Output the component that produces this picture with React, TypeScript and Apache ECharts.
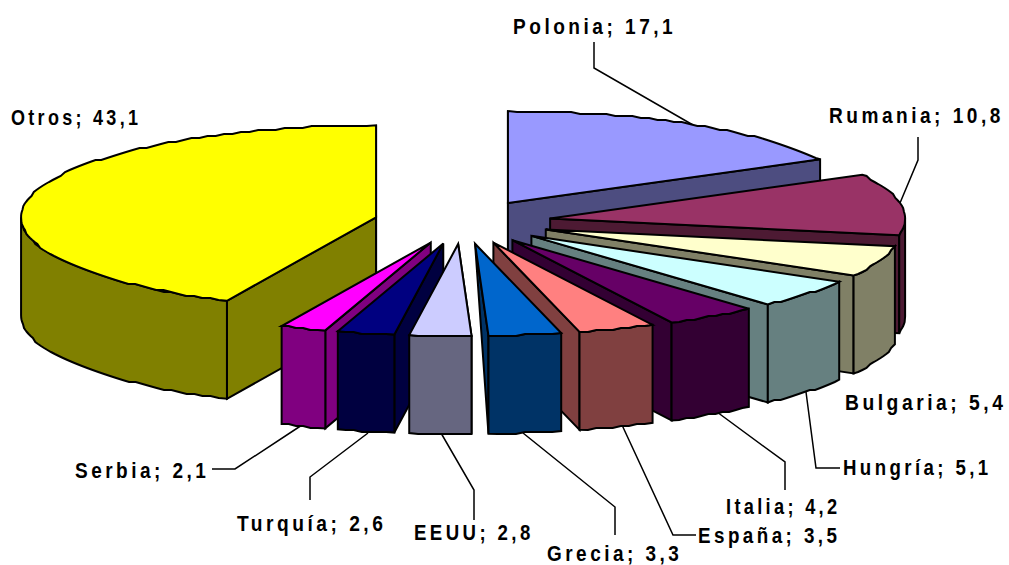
import React, { useEffect, useRef } from "react";
import * as echarts from "echarts";

const names = ["Polonia", "Rumania", "Bulgaria", "Hungría", "Italia", "España", "Grecia", "EEUU", "Turquía", "Serbia", "Otros"];
const shares = [17.1, 10.8, 5.4, 5.1, 4.2, 3.5, 3.3, 2.8, 2.6, 2.1, 43.1];
const topColors = ["#9999FF", "#993366", "#FFFFCC", "#CCFFFF", "#660066", "#FF8080", "#0066CC", "#CCCCFF", "#000080", "#FF00FF", "#FFFF00"];
const wallColors = ["#4D4D80", "#4D1A33", "#808066", "#668080", "#330033", "#804040", "#003366", "#666680", "#000040", "#800080", "#808000"];
// Back-to-front painting order (indices into names)
const paintOrder = [0, 10, 1, 2, 3, 4, 5, 6, 9, 8, 7];

// Pie projection
const CX = 462.6, CY = 222, RX = 355, RY = 92, EXP_X = 88.6, EXP_Y = 22, DEPTH = 98;

// left, vertical middle, horizontal stretch of each label
const labelLayout: [number, number, number][] = [
  [513, 26, 1.06], [829, 115, 1.06], [845, 402, 1.07], [843, 467, 1.035], [726, 506, 1.01], [698, 535, 1.045],
  [547, 553, 1.055], [414, 532, 1.035], [237, 523, 1.065], [75, 470, 1.056], [11, 117, 1.0],
];
const leaders: number[][][] = [
  [[594, 42], [594, 68], [693, 125]],
  [[918, 137], [918, 160], [900, 203]],
  [],
  [[806, 392], [816, 468], [840, 468]],
  [[717, 412], [785, 462], [785, 490]],
  [[622, 425], [673, 535], [696, 535]],
  [[523, 433], [615, 507], [615, 535]],
  [[441, 433], [474, 490], [474, 520]],
  [[368, 433], [310, 477], [310, 500]],
  [[302, 425], [235, 469], [212, 469]],
  [],
];

const rad = (d: number) => (d * Math.PI) / 180;
const fmt = (v: number) => v.toFixed(1).replace(".", ",");

function sampleArc(ax: number, ay: number, a0: number, a1: number) {
  const out: number[][] = [];
  const n = Math.max(2, Math.ceil((a1 - a0) / 1.5));
  for (let k = 0; k <= n; k++) {
    const a = rad(a0 + ((a1 - a0) * k) / n);
    const x = ax + RX * Math.sin(a);
    const y = ay - RY * Math.cos(a);
    const edge = k === 0 || k === n;
    out.push(edge ? [x, y] : [x, Math.round(y / 2) * 2]);
  }
  return out;
}

function renderSlice(_: any, api: any) {
  const i = api.value(1) as number;
  const before = shares.slice(0, i).reduce((a, b) => a + b, 0);
  const start = before * 3.6;
  const end = (before + (api.value(0) as number)) * 3.6;
  const midDeg = (start + end) / 2;
  const mid = rad(midDeg);
  const ax = CX + EXP_X * Math.sin(mid);
  const ay = CY - EXP_Y * Math.cos(mid);
  const down = (p: number[]) => [p[0], p[1] + DEPTH];
  const base = { stroke: "#000", lineWidth: 2, lineJoin: "miter" };
  const poly = (points: number[][], fill: string) => ({
    type: "polygon", shape: { points }, style: { ...base, fill },
  });
  const arc = sampleArc(ax, ay, start, end);
  const p0 = arc[0], p1 = arc[arc.length - 1];
  const wall = wallColors[i];
  const children: any[] = [];
  // Walls facing away stay hidden, except the two on the vertical 0/360 edge.
  const onRight = midDeg <= 180;
  if (!onRight || start < 0.01) {
    children.push(poly([[ax, ay], p0, down(p0), [ax, ay + DEPTH]], wall));
  }
  if (onRight || end > 359.99) {
    // a wall seen almost edge-on closes to a point at the hub
    children.push(
      end > 170 && end < 180
        ? poly([[ax, ay], p1, down(p1)], wall)
        : poly([[ax, ay], p1, down(p1), [ax, ay + DEPTH]], wall),
    );
  }
  const f0 = Math.max(start, 90), f1 = Math.min(end, 270);
  if (f1 > f0) {
    const front = sampleArc(ax, ay, f0, f1);
    children.push(poly([...front, ...front.slice().reverse().map(down)], wall));
  }
  children.push(poly([[ax, ay], ...arc], topColors[i]));
  return { type: "group", children };
}

export default function App() {
  const ref = useRef<HTMLDivElement>(null);
  useEffect(() => {
    document.body.style.margin = "0";
    const chart = echarts.init(ref.current!, undefined, { renderer: "svg" });
    const graphic: any[] = [];
    names.forEach((n, i) => {
      if (leaders[i].length) {
        graphic.push({
          type: "polyline", silent: true,
          shape: { points: leaders[i] },
          style: { stroke: "#000", lineWidth: 1.5, fill: "none" },
        });
      }
      graphic.push({
        type: "text", x: labelLayout[i][0], y: labelLayout[i][1],
        scaleX: labelLayout[i][2], scaleY: 1.25,
        style: {
          text: `${n}; ${fmt(shares[i])}`,
          fill: "#000", fontFamily: "Liberation Sans", fontWeight: "bold", fontSize: 18,
          align: "left", verticalAlign: "middle",
        },
      });
    });
    chart.setOption({
      animation: false,
      backgroundColor: "#fff",
      graphic,
      series: [{
        type: "custom",
        coordinateSystem: "none",
        silent: true,
        renderItem: renderSlice,
        data: paintOrder.map((i) => ({ name: names[i], value: [shares[i], i] })),
      }],
    });
    return () => chart.dispose();
  }, []);
  return (
    <div
      ref={ref}
      style={{ position: "absolute", left: 0, top: 0, width: 1009, height: 565, letterSpacing: "3.3px" }}
    />
  );
}
